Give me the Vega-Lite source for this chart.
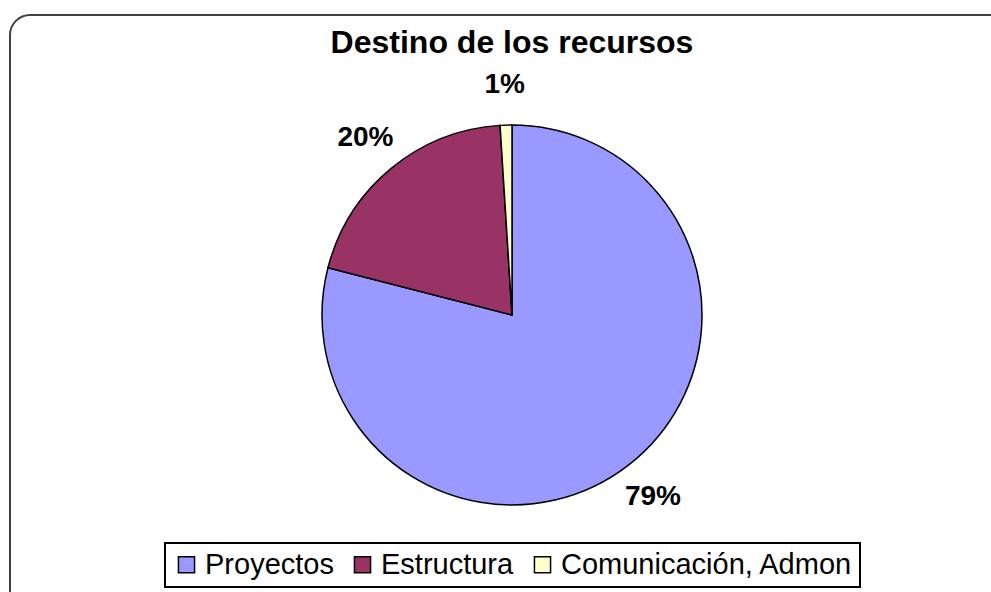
{
  "$schema": "https://vega.github.io/schema/vega-lite/v6.json",
  "width": 1004,
  "height": 600,
  "autosize": {"type": "none"},
  "padding": {"left": 10, "top": 15, "right": 0, "bottom": 0},
  "background": "white",
  "view": {"stroke": "#404040", "strokeWidth": 2, "cornerRadius": 20, "fill": "white"},
  "title": {
    "text": "Destino de los recursos",
    "font": "Liberation Sans",
    "fontSize": 32,
    "fontWeight": "bold",
    "color": "black",
    "anchor": "middle",
    "frame": "group",
    "offset": -45
  },
  "data": {
    "values": [
      {"categoria": "Proyectos", "valor": 0.79, "orden": 1},
      {"categoria": "Estructura", "valor": 0.20, "orden": 2},
      {"categoria": "Comunicación, Admon", "valor": 0.01, "orden": 3}
    ]
  },
  "encoding": {
    "theta": {"field": "valor", "type": "quantitative", "stack": true},
    "order": {"field": "orden", "type": "ordinal"}
  },
  "layer": [
    {
      "mark": {"type": "arc", "outerRadius": 190, "stroke": "black", "strokeWidth": 1.5},
      "encoding": {
        "color": {
          "field": "categoria",
          "type": "nominal",
          "scale": {
            "domain": ["Proyectos", "Estructura", "Comunicación, Admon"],
            "range": ["#9999FF", "#993366", "#FFFFCC"]
          },
          "legend": {
            "orient": "none",
            "legendX": 155,
            "legendY": 528,
            "direction": "horizontal",
            "title": null,
            "symbolType": "square",
            "symbolSize": 260,
            "symbolStrokeColor": "black",
            "symbolStrokeWidth": 1.5,
            "labelFont": "Liberation Sans",
            "labelFontSize": 29,
            "labelColor": "black",
            "labelLimit": 0,
            "columnPadding": 14,
            "symbolOffset": 0,
            "padding": 7,
            "strokeColor": "black",
            "fillColor": "white",
            "encode": {"legend": {"update": {"strokeWidth": {"value": 2}}}}
          }
        }
      }
    },
    {
      "mark": {"type": "text", "radius": 230, "font": "Liberation Sans", "fontSize": 28, "fontWeight": "bold", "color": "black"},
      "encoding": {
        "text": {"field": "valor", "type": "quantitative", "format": ".0%"}
      }
    }
  ]
}
